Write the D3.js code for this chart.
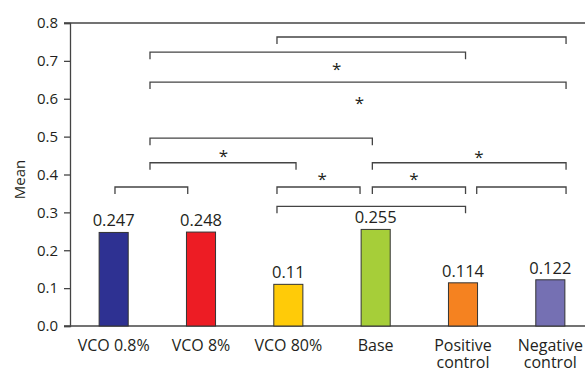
<!DOCTYPE html>
<html>
<head>
<meta charset="utf-8">
<script src="https://cdn.jsdelivr.net/npm/d3@7"></script>
<style>
  html, body { margin: 0; padding: 0; background: #fff; }
  svg { display: block; }
  text { font-family: "Open Sans", "Noto Sans", sans-serif; fill: #231f20; }
</style>
</head>
<body>
<svg id="chart" width="585" height="371"></svg>
<script>
// ---- data ----
const categories = ["VCO 0.8%", "VCO 8%", "VCO 80%", "Base", "Positive control", "Negative control"];
const categoryLines = [["VCO 0.8%"], ["VCO 8%"], ["VCO 80%"], ["Base"], ["Positive", "control"], ["Negative", "control"]];
const means = [0.247, 0.248, 0.11, 0.255, 0.114, 0.122];
const valueLabels = ["0.247", "0.248", "0.11", "0.255", "0.114", "0.122"];
const barColors = ["#2e3192", "#ed1c24", "#ffcb08", "#a6ce39", "#f58220", "#7570b3"];
const yTicks = [0, 0.1, 0.2, 0.3, 0.4, 0.5, 0.6, 0.7, 0.8];
// comparison brackets: [start position, end position (in category index units), level (mean units)]
const bracketStart = [1.87, 0.416, 0.416, 0.416, 0.416, 1.87, 0.015, 2.962, 2.962, 4.157, 1.87];
const bracketEnd   = [5.18, 4.029, 5.18, 2.962, 2.088, 2.821, 0.848, 5.18, 4.029, 5.18, 4.029];
const bracketLevel = [0.763, 0.723, 0.644, 0.496, 0.431, 0.367, 0.367, 0.431, 0.367, 0.367, 0.316];
// significance stars: [position (category index units), level (mean units)]
const starPos   = [2.554, 2.813, 1.256, 2.389, 4.183, 3.439];
const starLevel = [0.688, 0.600, 0.459, 0.398, 0.458, 0.398];

// ---- layout ----
const svg = d3.select("#chart");
const mLeft = 70, mRight = 594, mTop = 23, mBottom = 326;

const x = d3.scaleBand().domain(categories).range([mLeft, mRight]).paddingInner(0.667).paddingOuter(0.3335);
const y = d3.scaleLinear().domain([0, 0.8]).range([mBottom, mTop]);
const pos = d3.scaleLinear().domain([0, 1])
  .range([x(categories[0]) + x.bandwidth() / 2, x(categories[1]) + x.bandwidth() / 2]);

// top border line
svg.append("line")
  .attr("x1", mLeft - 6).attr("x2", 585)
  .attr("y1", y(0.8)).attr("y2", y(0.8))
  .attr("stroke", "#444").attr("stroke-width", 1.3);

// y axis
const yAxis = svg.append("g").attr("transform", `translate(${mLeft},0)`)
  .call(d3.axisLeft(y).tickValues(yTicks).tickFormat(d3.format(".1f")).tickSize(6).tickPadding(6));
yAxis.select(".domain").attr("stroke", "#444").attr("stroke-width", 1.3);
yAxis.selectAll(".tick line").attr("stroke", "#444").attr("stroke-width", 1.3);
yAxis.selectAll(".tick text").attr("font-size", 15).attr("fill", "#231f20")
  .style("font-family", '"Open Sans", sans-serif');

// x axis line
svg.append("line")
  .attr("x1", mLeft - 6).attr("x2", 585)
  .attr("y1", y(0)).attr("y2", y(0))
  .attr("stroke", "#444").attr("stroke-width", 1.3);

// y label
svg.append("text")
  .attr("transform", `translate(25,${(y(0.3) + y(0.5)) / 2 + 5}) rotate(-90)`)
  .attr("text-anchor", "middle")
  .attr("font-size", 15)
  .text("Mean");

// bars
svg.selectAll("rect.bar").data(categories).join("rect")
  .attr("class", "bar")
  .attr("x", d => x(d))
  .attr("width", x.bandwidth())
  .attr("y", (d, i) => y(means[i]))
  .attr("height", (d, i) => y(0) - y(means[i]))
  .attr("fill", (d, i) => barColors[i])
  .attr("stroke", "#333")
  .attr("stroke-width", 1);

// value labels
svg.selectAll("text.val").data(categories).join("text")
  .attr("class", "val")
  .attr("x", d => x(d) + x.bandwidth() / 2)
  .attr("y", (d, i) => y(means[i]) - 6)
  .attr("text-anchor", "middle")
  .attr("font-size", 16.5)
  .text((d, i) => valueLabels[i]);

// category labels
const catG = svg.selectAll("text.cat").data(categories).join("text")
  .attr("class", "cat")
  .attr("x", d => x(d) + x.bandwidth() / 2)
  .attr("y", 351)
  .attr("text-anchor", "middle")
  .attr("font-size", 16);
catG.each(function(d, i) {
  const t = d3.select(this);
  categoryLines[i].forEach((ln, j) => {
    t.append("tspan").attr("x", x(d) + x.bandwidth() / 2).attr("dy", j === 0 ? 0 : 17).text(ln);
  });
});

// brackets
const tickLen = 7;
const bG = svg.append("g");
bracketStart.forEach((s, i) => {
  const x1 = pos(s), x2 = pos(bracketEnd[i]), yy = y(bracketLevel[i]);
  bG.append("path")
    .attr("d", `M${x1},${yy + tickLen}V${yy}H${x2}V${yy + tickLen}`)
    .attr("fill", "none")
    .attr("stroke", "#444")
    .attr("stroke-width", 1.3);
});

// stars
svg.selectAll("text.star").data(starPos).join("text")
  .attr("class", "star")
  .attr("x", d => pos(d))
  .attr("y", (d, i) => y(starLevel[i]) + 10)
  .attr("text-anchor", "middle")
  .attr("font-size", 17)
  .text("*");
</script>
</body>
</html>
